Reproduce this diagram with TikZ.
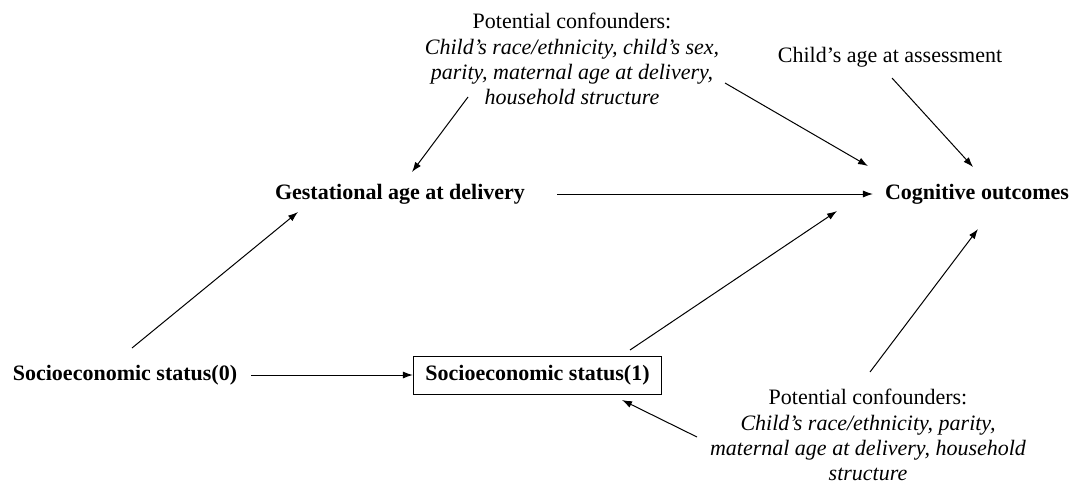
\documentclass[tikz,border=0pt]{standalone}
\usepackage{fontspec}
\setmainfont{Liberation Serif}
\usetikzlibrary{arrows.meta}

\newcommand{\dagfont}{\fontsize{11}{12.6}\selectfont}
\tikzstyle{var} = [font=\dagfont\bfseries]
\tikzstyle{conf} = [font=\dagfont, align=center]
\tikzstyle{arr} = [-{Latex[length=5pt,width=3.5pt]}, line width=0.5pt]

\begin{document}
\begin{tikzpicture}[x=0.5pt, y=-0.5pt]
\useasboundingbox (0,0) rectangle (1074,483);
%variables
\node[var] (gest) at (400,194) {Gestational age at delivery};
\node[var] (cog) at (977,194) {Cognitive outcomes};
\node[var] (ses0) at (125,375) {Socioeconomic status(0)};
\node[var, draw, line width=0.5pt, inner xsep=6pt, minimum height=19pt] (ses1) at (537.5,375) {Socioeconomic status(1)};
%confounders
\node[conf] (conf1) at (572,59) {Potential confounders:\\
    \textit{Child's race/ethnicity, child's sex,}\\
    \textit{parity, maternal age at delivery,}\\
    \textit{household structure}};
\node[conf] (age) at (890,57) {Child's age at assessment};
\node[conf] (conf2) at (868,435) {Potential confounders:\\
    \textit{Child's race/ethnicity, parity,}\\
    \textit{maternal age at delivery, household}\\
    \textit{structure}};
%arrows
\draw[arr] ([shift={(-104,38)}]conf1.center) -- ([shift={(12,-22)}]gest.center);
\draw[arr] ([shift={(153,24)}]conf1.center) -- ([shift={(-109,-28)}]cog.center);
\draw[arr] ([shift={(2,21)}]age.center) -- ([shift={(-4,-27)}]cog.center);
\draw[arr, shorten <=12.5pt, shorten >=2.5pt] (gest.east) -- (cog.west);
\draw[arr] ([shift={(7,-27)}]ses0.center) -- ([shift={(-102,18)}]gest.center);
\draw[arr, shorten <=3.5pt] (ses0.east) -- (ses1.west);
\draw[arr] ([shift={(92.5,-25)}]ses1.center) -- ([shift={(-140,17)}]cog.center);
\draw[arr] ([shift={(2,-63)}]conf2.center) -- ([shift={(1,35)}]cog.center);
\draw[arr] ([shift={(-171,2)}]conf2.center) -- ([shift={(84.5,25)}]ses1.center);
\end{tikzpicture}
\end{document}
